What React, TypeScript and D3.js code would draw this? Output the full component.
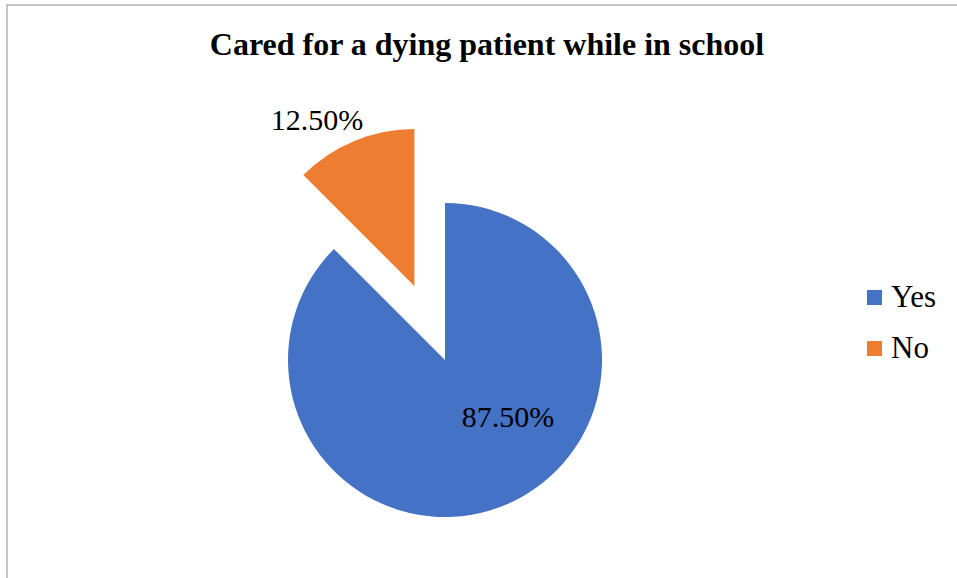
import React from "react";
import * as d3 from "d3";

const categories = ["Yes", "No"];
const values = [87.5, 12.5];
const labels = ["87.50%", "12.50%"];
const colors = ["#4472C4", "#ED7D31"];
const title = "Cared for a dying patient while in school";

const serif = "'Liberation Serif', 'Times New Roman', serif";

export default function App() {
  const W = 957, H = 578;
  const cx = 445, cy = 360, r = 157;
  const explode = [0, 80];
  const pie = d3.pie<number>().sort(null).value((d) => d)(values);
  const arc = d3.arc<d3.PieArcDatum<number>>().innerRadius(0).outerRadius(r);
  const labelPos = [
    { x: 508, y: 427 },
    { x: 317, y: 130 },
  ];
  return (
    <svg width={W} height={H} style={{ position: "absolute", left: 0, top: 0 }}>
      <rect x={0} y={0} width={W} height={H} fill="#fff" />
      <path d={`M7,${H} L7,5 L${W},5`} fill="none" stroke="#b3b3b3" strokeWidth={1.5} />
      <text x={487} y={55} textAnchor="middle" style={{ fontFamily: serif, fontWeight: "bold", fontSize: 32 }}>{title}</text>
      {pie.map((p, i) => {
        const mid = (p.startAngle + p.endAngle) / 2;
        const dx = Math.sin(mid) * explode[i];
        const dy = -Math.cos(mid) * explode[i];
        return (
          <path key={i} d={arc(p) || ""} fill={colors[i]} transform={`translate(${cx + dx},${cy + dy})`} />
        );
      })}
      {labels.map((l, i) => (
        <text key={i} x={labelPos[i].x} y={labelPos[i].y} textAnchor="middle" style={{ fontFamily: serif, fontSize: 30 }}>{l}</text>
      ))}
      {categories.map((c, i) => (
        <g key={c} transform={`translate(867,${290 + i * 51})`}>
          <rect x={0} y={0} width={15} height={15} fill={colors[i]} />
          <text x={24} y={17} style={{ fontFamily: serif, fontSize: 31 }}>{c}</text>
        </g>
      ))}
    </svg>
  );
}
